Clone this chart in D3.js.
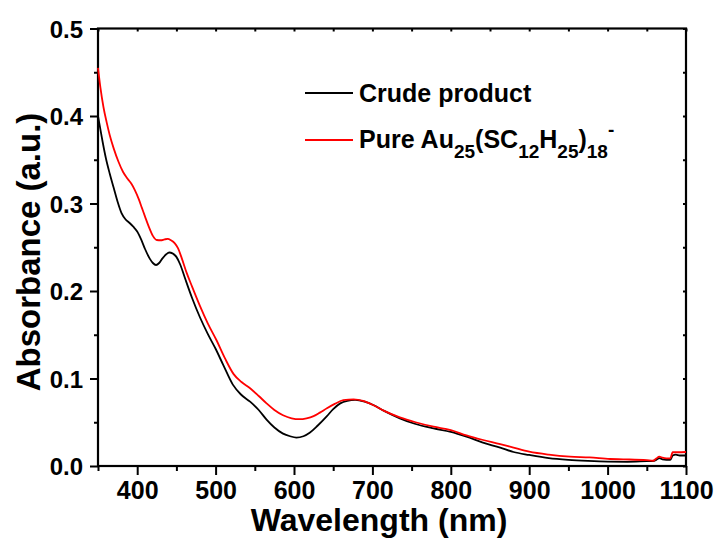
<!DOCTYPE html>
<html><head><meta charset="utf-8">
<script src="https://cdn.jsdelivr.net/npm/d3@7"></script>
<style>
body{margin:0;background:#fff;}
text{font-family:"Liberation Sans",Arial,sans-serif;font-weight:bold;fill:#000;}
</style></head>
<body><svg id="c" width="720" height="542"></svg>
<script>
// Data
const crudeWl = [350,353,356,360,365,370,375,380,385,390,395,400,405,410,416,420,424,428,432,437,441,445,450,455,461,470,480,490,500,510,522,532,544,555,565,575,586,595,603,612,620,630,642,650,659,668,678,690,701,715,735,755,778,800,820,840,863,880,900,925,950,975,1000,1025,1050,1058,1062,1066,1070,1075,1080,1083,1087,1092,1100];
const crudeAbs = [0.400,0.385,0.370,0.352,0.334,0.318,0.302,0.289,0.282,0.278,0.2735,0.268,0.259,0.248,0.237,0.232,0.2297,0.232,0.237,0.242,0.244,0.243,0.239,0.230,0.2145,0.192,0.170,0.151,0.134,0.115,0.093,0.082,0.0735,0.064,0.053,0.044,0.037,0.034,0.0325,0.034,0.038,0.046,0.057,0.065,0.0716,0.0745,0.0755,0.0735,0.0697,0.063,0.0545,0.048,0.043,0.039,0.0335,0.027,0.021,0.016,0.0126,0.009,0.007,0.0058,0.005,0.0048,0.0055,0.0057,0.007,0.009,0.0075,0.007,0.007,0.012,0.013,0.012,0.012];
const pureWl = [350,353,357,361,365,370,376,382,388,393,397,402,406,410,415,420,425,430,435,439,443,448,452,457,463,470,480,490,501,512,523,533,544,555,565,575,586,597,607,616,625,633,642,652,663,676,688,701,715,735,755,778,800,820,840,863,880,900,925,952,977,1003,1020,1050,1058,1062,1066,1070,1075,1080,1083,1090,1100];
const pureAbs = [0.455,0.433,0.410,0.393,0.378,0.363,0.348,0.336,0.328,0.322,0.3154,0.305,0.295,0.285,0.273,0.263,0.2583,0.258,0.259,0.2595,0.258,0.2545,0.249,0.237,0.221,0.205,0.183,0.163,0.144,0.123,0.105,0.096,0.0888,0.080,0.0716,0.064,0.058,0.0545,0.0535,0.0545,0.057,0.061,0.066,0.071,0.0752,0.0762,0.0745,0.0697,0.063,0.0556,0.050,0.0449,0.041,0.035,0.030,0.025,0.021,0.0164,0.013,0.0107,0.0098,0.008,0.0076,0.0066,0.006,0.0085,0.0107,0.0095,0.0088,0.0088,0.0157,0.0157,0.016];
const xMajor = [400,500,600,700,800,900,1000,1100];
const xMinor = [350,450,550,650,750,850,950,1050];
const yMajor = [0.0,0.1,0.2,0.3,0.4,0.5];
const yMinor = [0.05,0.15,0.25,0.35,0.45];
const seriesNames = ["Crude product","Pure"];

const L=98,T=28.5,R=686,B=466;
const svg=d3.select("#c");
const x=d3.scaleLinear().domain([350,1100]).range([L,R]);
const y=d3.scaleLinear().domain([0,0.5]).range([B,T]);

function styleAxis(g){g.select(".domain").remove();g.selectAll("line").attr("stroke","#000").attr("stroke-width",2);}
// bottom
svg.append("g").attr("transform",`translate(0,${B})`).call(d3.axisBottom(x).tickValues(xMajor).tickSize(9).tickFormat(d3.format("d")))
 .call(styleAxis).call(g=>g.selectAll("text").attr("font-size",25).attr("y",15).attr("dy","0.71em"));
svg.append("g").attr("transform",`translate(0,${B})`).call(d3.axisBottom(x).tickValues(xMinor).tickSize(5).tickFormat(""))
 .call(styleAxis);
// left
svg.append("g").attr("transform",`translate(${L},0)`).call(d3.axisLeft(y).tickValues(yMajor).tickSize(8).tickFormat(d3.format(".1f")))
 .call(styleAxis).call(g=>g.selectAll("text").attr("font-size",24).attr("x",-15).attr("dy","0.36em"));
svg.append("g").attr("transform",`translate(${L},0)`).call(d3.axisLeft(y).tickValues(yMinor).tickSize(4).tickFormat(""))
 .call(styleAxis);
// top/right inward
svg.append("g").attr("transform",`translate(0,${T})`).call(d3.axisTop(x).tickValues(xMajor.concat(xMinor)).tickSize(-3).tickFormat("")).call(styleAxis);
svg.append("g").attr("transform",`translate(${R},0)`).call(d3.axisRight(y).tickValues(yMajor.concat(yMinor)).tickSize(-3).tickFormat("")).call(styleAxis);
// frame
svg.append("rect").attr("x",L).attr("y",T).attr("width",R-L).attr("height",B-T).attr("fill","none").attr("stroke","#000").attr("stroke-width",2.2);

const line=d3.line().x(d=>x(d[0])).y(d=>y(d[1])).curve(d3.curveMonotoneX);
svg.append("path").datum(crudeWl.map((w,i)=>[w,crudeAbs[i]])).attr("d",line).attr("fill","none").attr("stroke","#000").attr("stroke-width",1.8);
svg.append("path").datum(pureWl.map((w,i)=>[w,pureAbs[i]])).attr("d",line).attr("fill","none").attr("stroke","#ff0000").attr("stroke-width",1.8);

// axis titles
svg.append("text").attr("x",379).attr("y",531).attr("text-anchor","middle").attr("font-size",32).text("Wavelength (nm)");
svg.append("text").attr("transform","translate(40,252) rotate(-90)").attr("text-anchor","middle").attr("font-size",33).text("Absorbance (a.u.)");

// legend
svg.append("line").attr("x1",305).attr("x2",353).attr("y1",93).attr("y2",93).attr("stroke","#000").attr("stroke-width",2);
svg.append("text").attr("x",359).attr("y",102).attr("font-size",25).text(seriesNames[0]);
svg.append("line").attr("x1",305).attr("x2",353).attr("y1",140).attr("y2",140).attr("stroke","#ff0000").attr("stroke-width",2);
const t2=svg.append("text").attr("x",359).attr("y",148).attr("font-size",25);
const parts=[["Pure Au",0],["25",1],["(SC",0],["12",1],["H",0],["25",1],[")",0],["18",1],["-",2]];
let cur=0;
parts.forEach(([s,k])=>{
  const target = k===1?10:(k===2?-12:0);
  t2.append("tspan").attr("dy",target-cur).attr("font-size",k===0?25:19).text(s);
  cur=target;
});
</script></body></html>
